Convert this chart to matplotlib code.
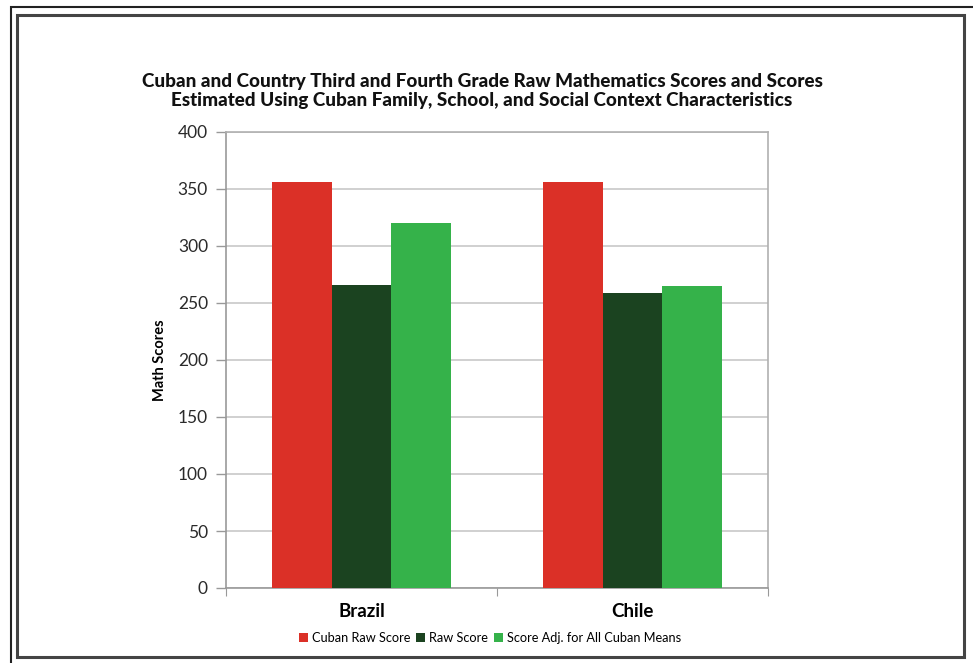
import matplotlib
matplotlib.use("Agg")
import matplotlib.pyplot as plt
from matplotlib.patches import Rectangle
import numpy as np

countries = ["Brazil", "Chile"]
series_names = ["Cuban Raw Score", "Raw Score", "Score Adj. for All Cuban Means"]
cuban_raw = [356, 356]
raw_score = [266, 259]
score_adj = [320, 265]
series = [cuban_raw, raw_score, score_adj]
colors = ["#DB3027", "#1B4320", "#35B24A"]
y_ticks = [0, 50, 100, 150, 200, 250, 300, 350, 400]

title = ("Cuban and Country Third and Fourth Grade Raw Mathematics Scores and Scores\n"
         "Estimated Using Cuban Family, School, and Social Context Characteristics")

plt.rcParams["font.family"] = ["Lato", "DejaVu Sans"]

W, H = 973, 663
fig = plt.figure(figsize=(W / 100, H / 100), dpi=100)
ax = fig.add_axes([226 / W, 1 - 588 / H, (768 - 226) / W, (588 - 132) / H])

x = np.arange(len(countries))
width = 0.22
for i, (vals, col) in enumerate(zip(series, colors)):
    ax.bar(x + (i - 1) * width, vals, width, color=col, label=series_names[i], zorder=3)

ax.set_xlim(-0.5, len(countries) - 0.5)
ax.set_ylim(0, 400)
ax.set_yticks(y_ticks)
ax.yaxis.grid(True, color="#c8c8c8", linewidth=1.2, zorder=0)
ax.tick_params(axis="y", labelsize=12.5, length=7, width=1, direction="out", pad=6,
               color="#999999", labelcolor="#2a2a2a")

# category boundaries as ticks, labels at centres
ax.set_xticks(np.arange(len(countries) + 1) - 0.5)
ax.set_xticklabels([])
ax.tick_params(axis="x", which="major", length=6, color="#999999")
ax.set_xticks(x, minor=True)
ax.set_xticklabels(countries, minor=True, fontsize=13.5, fontweight="bold")
ax.tick_params(axis="x", which="minor", length=0, pad=11)

for s in ax.spines.values():
    s.set_color("#b0b0b0")
    s.set_linewidth(1.2)
ax.spines["left"].set_color("#999999")
ax.spines["bottom"].set_color("#999999")

ax.set_ylabel("Math Scores", fontsize=10.5, fontweight="bold", labelpad=8)

fig.text(482 / W, 1 - 91 / H, title, ha="center", va="center", fontsize=13.6,
         fontweight="black", linespacing=1.2, color="#111111")

fig.legend(loc="center", bbox_to_anchor=(490 / W, 1 - 638 / H), ncol=3,
           frameon=False, fontsize=9.2, handlelength=0.7, handleheight=0.7,
           handletextpad=0.3, columnspacing=0.5)

# double border round the figure
fig.add_artist(Rectangle((11 / W, -0.05), 1.1, 1 - 7 / H + 0.05, transform=fig.transFigure,
                         fill=False, edgecolor="#222222", linewidth=1.5))
fig.add_artist(Rectangle((17 / W, 1 - 657 / H), (964 - 17) / W, (657 - 15) / H,
                         transform=fig.transFigure, fill=False, edgecolor="#444444", linewidth=2.2))

fig.savefig("out.png", dpi=100)
